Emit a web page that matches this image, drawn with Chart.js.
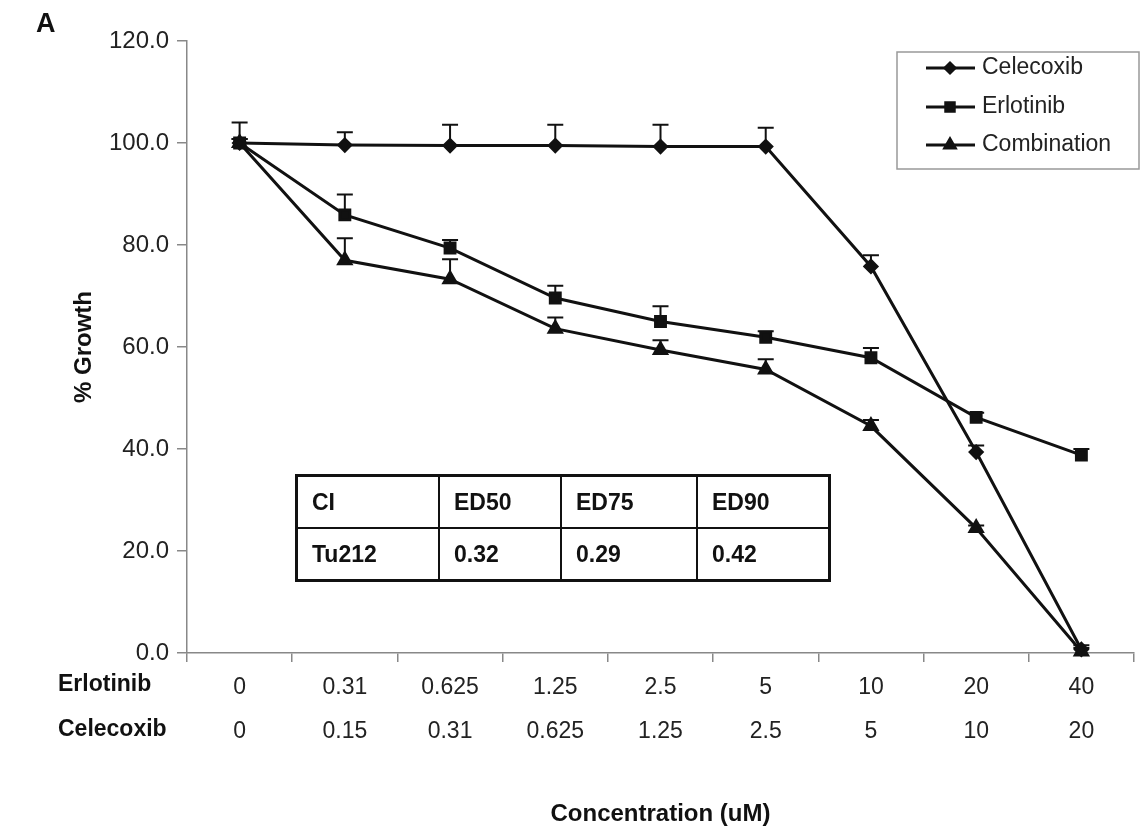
<!DOCTYPE html>
<html lang="en">
<head>
<meta charset="UTF-8">
<title>% Growth - Tu212</title>
<script src="https://cdn.jsdelivr.net/npm/chart.js"></script>
<style>
    body { margin: 0; background: #fff; font-family: "Liberation Sans", Arial, sans-serif; }
    .wrap { position: relative; width: 1144px; height: 833px; }
    .panel-label { position: absolute; left: 36px; top: 8px; font-size: 27px; font-weight: bold; color: #111; }
    .ci-table {
        position: absolute; left: 295px; top: 474px;
        border-collapse: collapse; border: 3px solid #111;
        font-size: 23px; font-weight: bold; color: #111;
    }
    .ci-table td { border: 2px solid #111; height: 50px; padding: 0 0 0 14px; text-align: left; }
</style>
</head>
<body>
<div class="wrap">
    <canvas id="growthChart" width="1144" height="833"></canvas>
    <div class="panel-label">A</div>
    <table class="ci-table">
        <tr><td style="width:126px">CI</td><td style="width:106px">ED50</td><td style="width:120px">ED75</td><td style="width:116px">ED90</td></tr>
        <tr><td>Tu212</td><td>0.32</td><td>0.29</td><td>0.42</td></tr>
    </table>
</div>

<script>
// doses (uM) for each drug, one per x category
const erlotinibDose = ['0', '0.31', '0.625', '1.25', '2.5', '5', '10', '20', '40'];
const celecoxibDose = ['0', '0.15', '0.31', '0.625', '1.25', '2.5', '5', '10', '20'];

// % growth and upper error bars
const celecoxib    = [100, 99.6, 99.5, 99.5, 99.3, 99.3, 75.8, 39.4, 0.7];
const celecoxibErr = [4.0, 2.5, 4.1, 4.1, 4.3, 3.7, 2.2, 1.3, 0.8];
const erlotinib    = [100, 85.9, 79.4, 69.6, 65.0, 61.9, 57.9, 46.2, 38.8];
const erlotinibErr = [0.8, 4.0, 1.6, 2.4, 3.0, 1.2, 1.9, 0.9, 1.2];
const combination    = [100, 77.0, 73.3, 63.6, 59.4, 55.6, 44.5, 24.5, 0.3];
const combinationErr = [0.8, 4.3, 3.9, 2.2, 1.9, 2.0, 1.2, 0.5, 0.7];

const yTicks = [0, 20, 40, 60, 80, 100, 120];

const labels = erlotinibDose.map((d, i) => [d, celecoxibDose[i]]);
const errs = [celecoxibErr, erlotinibErr, combinationErr];

const FONT = '"Liberation Sans", Arial, sans-serif';

// upper error bars, drawn under the lines
const errorBars = {
    id: 'errorBars',
    beforeDatasetsDraw(chart) {
        const ctx = chart.ctx;
        const y = chart.scales.y;
        ctx.save();
        ctx.strokeStyle = '#111';
        ctx.lineWidth = 2;
        chart.data.datasets.forEach((ds, di) => {
            const meta = chart.getDatasetMeta(di);
            meta.data.forEach((pt, i) => {
                const top = y.getPixelForValue(ds.data[i] + errs[di][i]);
                ctx.beginPath();
                ctx.moveTo(pt.x, pt.y);
                ctx.lineTo(pt.x, top);
                ctx.moveTo(pt.x - 8, top);
                ctx.lineTo(pt.x + 8, top);
                ctx.stroke();
            });
        });
        ctx.restore();
    }
};

// row names left of the two x label rows + boxed legend
const extras = {
    id: 'extras',
    afterDraw(chart) {
        const ctx = chart.ctx;
        const x = chart.scales.x;
        ctx.save();
        ctx.fillStyle = '#111';
        ctx.font = 'bold 23px ' + FONT;
        ctx.textAlign = 'left';
        ctx.textBaseline = 'middle';
        ctx.fillText('Erlotinib', 58, x.top + 32);
        ctx.fillText('Celecoxib', 58, x.top + 77);

        // legend
        ctx.strokeStyle = '#999';
        ctx.lineWidth = 1.5;
        ctx.strokeRect(897, 52, 242, 117);
        const rows = [68, 107, 145];
        ctx.font = '23px ' + FONT;
        chart.data.datasets.forEach((ds, i) => {
            const yy = rows[i];
            ctx.strokeStyle = '#111';
            ctx.lineWidth = 3;
            ctx.beginPath();
            ctx.moveTo(926, yy);
            ctx.lineTo(975, yy);
            ctx.stroke();
            ctx.fillStyle = '#111';
            Chart.helpers.drawPoint(ctx, {
                pointStyle: ds.pointStyle, radius: ds.pointRadius - 1, rotation: 0, borderWidth: 1
            }, 950, yy);
            ctx.fillStyle = '#222';
            ctx.fillText(ds.label, 982, yy);
        });
        ctx.restore();
    }
};

new Chart(document.getElementById('growthChart'), {
    type: 'line',
    data: {
        labels: labels,
        datasets: [
            { label: 'Celecoxib', data: celecoxib, pointStyle: 'rectRot', pointRadius: 6 },
            { label: 'Erlotinib', data: erlotinib, pointStyle: 'rect', pointRadius: 7 },
            { label: 'Combination', data: combination, pointStyle: 'triangle', pointRadius: 7 }
        ].map(d => Object.assign(d, {
            borderColor: '#111', backgroundColor: '#111', pointBackgroundColor: '#111',
            pointBorderColor: '#111', borderWidth: 3, tension: 0, clip: false
        }))
    },
    plugins: [errorBars, extras],
    options: {
        responsive: false,
        animation: false,
        layout: { padding: { top: 41, right: 6, left: 0, bottom: 0 } },
        plugins: { legend: { display: false }, tooltip: { enabled: false } },
        scales: {
            x: {
                type: 'category',
                offset: true,
                afterFit: s => { s.height = 180; s.paddingRight = 0; },
                grid: { drawOnChartArea: false, offset: true, tickLength: 9, color: '#888', lineWidth: 1.5 },
                border: { color: '#888', width: 1.5 },
                ticks: {
                    color: '#222', padding: 4, maxRotation: 0, autoSkip: false,
                    font: { family: FONT, size: 23, lineHeight: 1.9 }
                },
                title: {
                    display: true, text: 'Concentration (uM)', color: '#111',
                    font: { family: FONT, size: 24, weight: 'bold' }, padding: { bottom: 4 }
                }
            },
            y: {
                min: 0, max: 120,
                afterFit: s => { s.width = 187; },
                afterBuildTicks: s => { s.ticks = yTicks.map(v => ({ value: v })); },
                grid: { drawOnChartArea: false, tickLength: 10, color: '#888', lineWidth: 1.5 },
                border: { color: '#888', width: 1.5 },
                ticks: {
                    color: '#222', padding: 8,
                    font: { family: FONT, size: 24 },
                    callback: v => v.toFixed(1)
                },
                title: {
                    display: true, text: '% Growth', color: '#111',
                    font: { family: FONT, size: 24, weight: 'bold' }, padding: { top: 70 }
                }
            }
        }
    }
});
</script>
</body>
</html>
